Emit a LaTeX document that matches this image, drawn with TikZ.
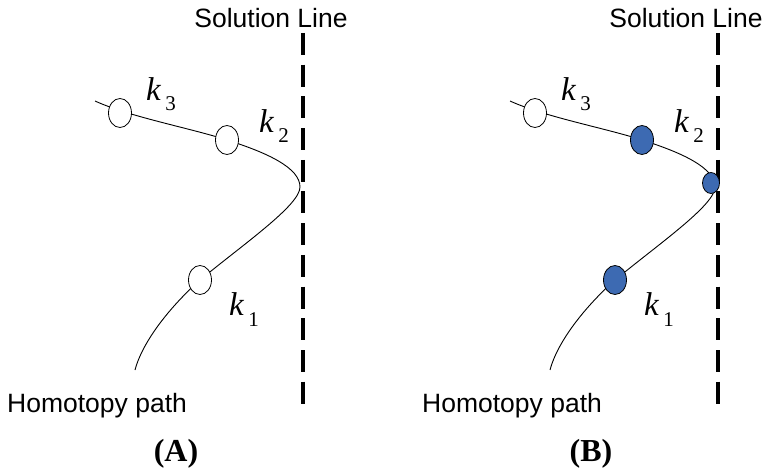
\documentclass[tikz,border=0pt]{standalone}
\usepackage{fontspec}
\setmainfont{Liberation Serif}
\newfontfamily\labfont{Liberation Sans}
\usetikzlibrary{shapes.geometric}

\definecolor{cblue}{RGB}{61,106,178}

\newcommand{\klab}[1]{{\fontsize{33}{33}\selectfont\textit{k}}\hspace{4pt}\raisebox{-10pt}{\fontsize{21}{21}\selectfont #1}}

\begin{document}
\begin{tikzpicture}[x=1pt,y=-1pt,
        pt/.style={ellipse,draw=black,line width=0.8pt,inner sep=0pt,
                   minimum width=23pt,minimum height=29pt,fill=white},
        ptsmall/.style={pt,minimum width=17pt,minimum height=21pt},
        hpath/.style={line width=0.9pt},
        solline/.style={line width=4pt,dash pattern=on 22pt off 9.7pt},
        klabel/.style={anchor=base west,inner sep=0pt},
        txtlab/.style={font=\labfont\fontsize{26.5}{26.5}\selectfont,inner sep=0pt},
        panlab/.style={font=\bfseries\fontsize{32}{32}\selectfont,anchor=base,inner sep=0pt}]
      \useasboundingbox (0,0) rectangle (764,468);

      % (A)
      \coordinate (a0) at (95,101);
      \coordinate (a2) at (227,140);
      \coordinate (at) at (300,187);
      \coordinate (a1) at (200,280);
      \coordinate (ae) at (135,370);
      \draw[hpath] (a0) .. controls (130,117) and (190,128) .. (a2)
                        .. controls (268,153) and (300,168) .. (at)
                        .. controls (300,205) and (245,243) .. (a1)
                        .. controls (172,305) and (143,340) .. (ae);
      \coordinate (atop) at (303,33);
      \coordinate (abot) at (303,404);
      \draw[solline] (atop) -- (abot);

      \node[pt] (ak3) at (120,113) {};
      \node[pt] (ak2) at (a2) {};
      \node[pt] (ak1) at (a1) {};

      \node[klabel] (ak3l) at (146,101) {\klab{3}};
      \node[klabel] (ak2l) at (259,133) {\klab{2}};
      \node[klabel] (ak1l) at (229,316) {\klab{1}};

      \node[txtlab,anchor=base] (asol) at (271,28) {Solution Line};
      \node[txtlab,anchor=base west] (ahom) at (7,412) {Homotopy path};
      \node[panlab] (apan) at (176,461) {(A)};

      % (B)
      \coordinate (b0) at (510,101);
      \coordinate (b2) at (642,140);
      \coordinate (bt) at (715,187);
      \coordinate (b1) at (615,280);
      \coordinate (be) at (550,370);
      \draw[hpath] (b0) .. controls (545,117) and (605,128) .. (b2)
                        .. controls (683,153) and (715,168) .. (bt)
                        .. controls (715,205) and (660,243) .. (b1)
                        .. controls (587,305) and (558,340) .. (be);
      \coordinate (btop) at (718,33);
      \coordinate (bbot) at (718,404);
      \draw[solline] (btop) -- (bbot);

      \node[pt] (bk3) at (535,113) {};
      \node[pt,fill=cblue] (bk2) at (b2) {};
      \node[ptsmall,fill=cblue] (bkt) at (711,183) {};
      \node[pt,fill=cblue] (bk1) at (b1) {};

      \node[klabel] (bk3l) at (561,101) {\klab{3}};
      \node[klabel] (bk2l) at (674,133) {\klab{2}};
      \node[klabel] (bk1l) at (644,316) {\klab{1}};

      \node[txtlab,anchor=base] (bsol) at (686,28) {Solution Line};
      \node[txtlab,anchor=base west] (bhom) at (422,412) {Homotopy path};
      \node[panlab] (bpan) at (591,461) {(B)};
    \end{tikzpicture}
\end{document}
